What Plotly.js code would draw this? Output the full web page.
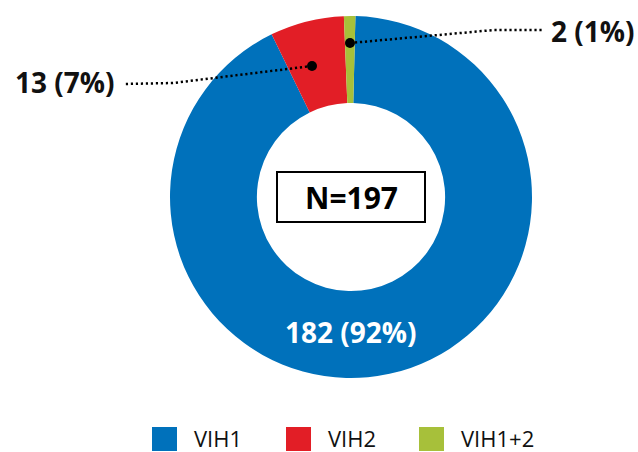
<!DOCTYPE html>
<html>
<head>
<meta charset="utf-8">
<script src="https://cdn.plot.ly/plotly-3.0.1.min.js"></script>
<style>
  html, body { margin: 0; padding: 0; background: #fff; }
  #chart { width: 638px; height: 452px; }
</style>
</head>
<body>
<div id="chart"></div>
<script>
// ---- data ----
var labels = ['VIH1', 'VIH2', 'VIH1+2'];
var values = [182, 13, 2];
var colors = ['#0071BB', '#E21E26', '#A7C03A'];
var totalLabel = 'N=197';

// ---- helpers (pixel -> paper, margins are zero) ----
var W = 638, H = 452;
function px(x) { return x / W; }
function py(y) { return 1 - y / H; }

var total = values.reduce(function (a, b) { return a + b; }, 0);
function lbl(i) {
  return values[i] + ' (' + Math.round(values[i] / total * 100) + '%)';
}

var FONT = '"Open Sans", "Noto Sans", sans-serif';

// pie geometry
var cx = 351, cy = 197, R = 181;

var pie = {
  type: 'pie',
  labels: labels,
  values: values,
  sort: false,
  direction: 'clockwise',
  rotation: 1.4,
  hole: 0.52,
  marker: { colors: colors, line: { width: 0 } },
  textinfo: 'none',
  hoverinfo: 'none',
  showlegend: false,
  domain: { x: [px(cx - R), px(cx + R)], y: [py(cy + R), py(cy - R)] }
};

var shapes = [];
var annotations = [];

// centre box
shapes.push({ type: 'rect', xref: 'paper', yref: 'paper',
  x0: px(277), x1: px(425), y0: py(222), y1: py(172),
  line: { color: '#000', width: 2 }, fillcolor: 'rgba(0,0,0,0)' });
annotations.push({ xref: 'paper', yref: 'paper', x: px(351), y: py(197),
  text: '<b>' + totalLabel + '</b>', showarrow: false,
  xanchor: 'center', yanchor: 'middle',
  font: { family: FONT, size: 30, color: '#000' } });

// inside label for VIH1
annotations.push({ xref: 'paper', yref: 'paper', x: px(351), y: py(332),
  text: '<b>' + lbl(0) + '</b>', showarrow: false,
  xanchor: 'center', yanchor: 'middle',
  font: { family: FONT, size: 28, color: '#fff' } });

// leader lines + dots for small slices
var leaders = [
  { i: 1, pts: [[312, 66], [173, 83], [124, 84]], tx: 117, ty: 82, anchor: 'right' },
  { i: 2, pts: [[350, 43], [494, 30], [542, 30]], tx: 549, ty: 31, anchor: 'left' }
];
leaders.forEach(function (L) {
  var p = L.pts;
  var path = 'M' + px(p[0][0]) + ',' + py(p[0][1]);
  for (var k = 1; k < p.length; k++) path += ' L' + px(p[k][0]) + ',' + py(p[k][1]);
  shapes.push({ type: 'path', xref: 'paper', yref: 'paper', path: path,
    line: { color: '#000', width: 2.5, dash: '2.2px,2.8px' } });
  var r = 5;
  shapes.push({ type: 'circle', xref: 'paper', yref: 'paper',
    x0: px(p[0][0] - r), x1: px(p[0][0] + r), y0: py(p[0][1] + r), y1: py(p[0][1] - r),
    fillcolor: '#000', line: { color: '#000', width: 0 } });
  annotations.push({ xref: 'paper', yref: 'paper', x: px(L.tx), y: py(L.ty),
    text: '<b>' + lbl(L.i) + '</b>', showarrow: false,
    xanchor: L.anchor, yanchor: 'middle',
    font: { family: FONT, size: 28, color: '#111' } });
});

// custom legend (large square swatches)
var legSquareX = [152, 286, 419];
var legY0 = 427, legY1 = 451, sq = 25, gap = 15;
labels.forEach(function (name, i) {
  shapes.push({ type: 'rect', xref: 'paper', yref: 'paper',
    x0: px(legSquareX[i]), x1: px(legSquareX[i] + sq), y0: py(legY1), y1: py(legY0),
    fillcolor: colors[i], line: { width: 0 } });
  annotations.push({ xref: 'paper', yref: 'paper',
    x: px(legSquareX[i] + sq + gap), y: py((legY0 + legY1) / 2 - 1),
    text: name, showarrow: false, xanchor: 'left', yanchor: 'middle',
    font: { family: FONT, size: 22, color: '#111' } });
});

var layout = {
  width: W, height: H,
  margin: { l: 0, r: 0, t: 0, b: 0 },
  paper_bgcolor: '#fff', plot_bgcolor: '#fff',
  showlegend: false,
  shapes: shapes,
  annotations: annotations
};

Plotly.newPlot('chart', [pie], layout, { displayModeBar: false, staticPlot: true });
</script>
</body>
</html>
